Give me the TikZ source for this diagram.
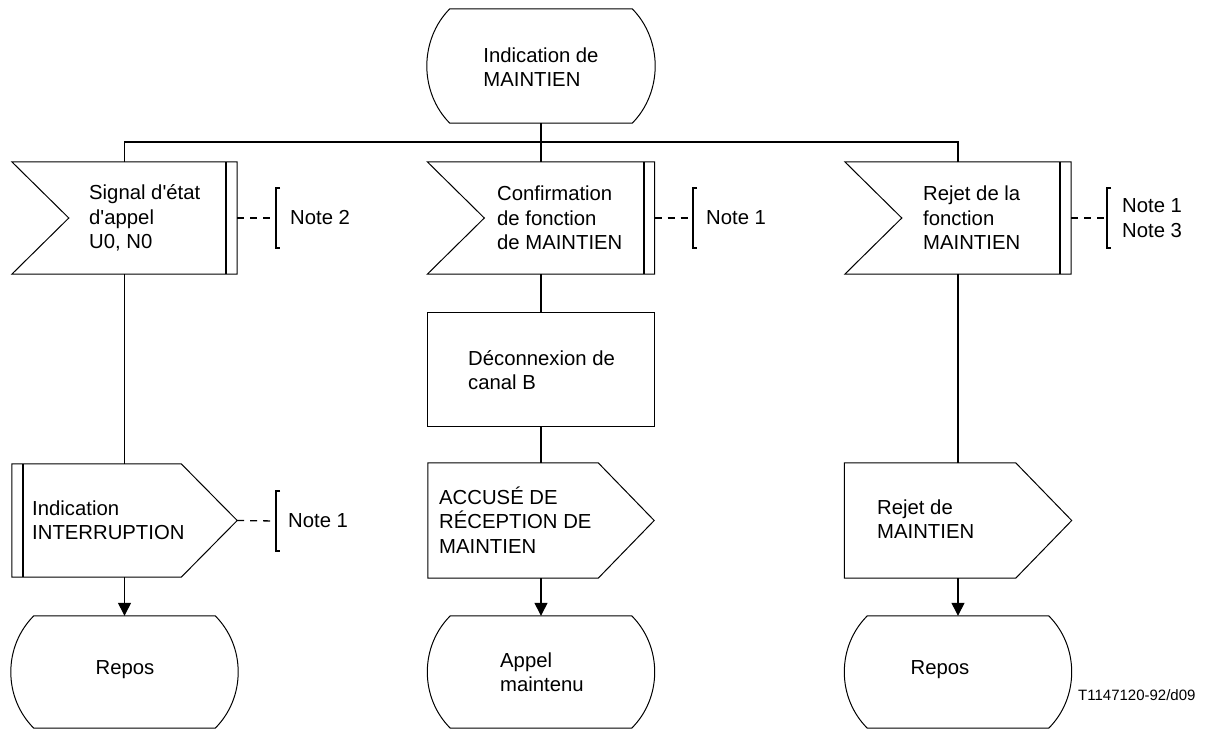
\documentclass[tikz,border=0pt]{standalone}
\usepackage{fontspec}
\newfontfamily\labelfont{Liberation Sans}
\usetikzlibrary{calc,arrows.meta}

% SDL symbol outlines, drawn from the anchors of an empty named node
\newcommand\stateoutline[1]{%
  \draw[outline] ($(#1.north west)+(23,0)$) -- ($(#1.north east)+(-23,0)$)
    .. controls ($(#1.north east)+(-8,15)$) and ($(#1.east)+(0,-21)$) .. (#1.east)
    .. controls ($(#1.east)+(0,21)$) and ($(#1.south east)+(-8,-15)$) .. ($(#1.south east)+(-23,0)$)
    -- ($(#1.south west)+(23,0)$)
    .. controls ($(#1.south west)+(8,-15)$) and ($(#1.west)+(0,21)$) .. (#1.west)
    .. controls ($(#1.west)+(0,-21)$) and ($(#1.north west)+(8,15)$) .. cycle;}
\newcommand\inputoutline[1]{%
  \draw[outline] (#1.north west) -- (#1.north east) -- (#1.south east)
    -- (#1.south west) -- ($(#1.west)+(57,0)$) -- cycle;
  \draw[bar] ($(#1.north east)+(-11,0)$) -- ($(#1.south east)+(-11,0)$);}
\newcommand\outputoutline[1]{%
  \draw[outline] (#1.north west) -- ($(#1.north east)+(-56,0)$) -- (#1.east)
    -- ($(#1.south east)+(-56,0)$) -- (#1.south west) -- cycle;}
\newcommand\notebracket[1]{%
  \draw[bracket] ($(#1)+(4,-30)$) -- ($(#1)+(0,-30)$) -- ($(#1)+(0,30)$) -- ($(#1)+(4,30)$);}

\begin{document}
\begin{tikzpicture}[x=1pt,y=-1pt,
  box/.style={draw=none, inner sep=0pt, minimum width=226pt, minimum height=112pt},
  outline/.style={draw=black, line width=1pt, line join=miter},
  bar/.style={line width=2.2pt},
  flow/.style={line width=1.3pt},
  flowarrow/.style={line width=1.3pt, -{Triangle[length=13pt,width=13pt]}},
  lbl/.style={font=\labelfont\fontsize{20.3}{24.5}\selectfont, align=left, inner sep=0pt},
  notelink/.style={line width=1.3pt, dash pattern=on 7pt off 6pt},
  bracket/.style={line width=1.5pt},
]
\useasboundingbox (0,0) rectangle (1210,731);

% symbols
\node[box, minimum width=228pt, minimum height=114pt] (s0) at (541,66) {};
\node[box, minimum width=225pt] (in1) at (124.5,218) {};
\node[box, minimum width=227pt] (in2) at (541,218) {};
\node[box] (in3) at (958,218) {};
\node[box, minimum width=227pt, minimum height=114pt, outline] (task) at (541,369) {};
\node[box, minimum width=225pt, minimum height=113pt] (out1) at (124.5,520.5) {};
\node[box, minimum height=115pt] (out2) at (541,520.5) {};
\node[box, minimum width=227pt, minimum height=115pt] (out3) at (958,520.5) {};
\node[box, minimum width=227pt] (st1) at (124.5,672) {};
\node[box, minimum width=227pt] (st2) at (541,672) {};
\node[box, minimum width=227pt] (st3) at (958,672) {};

\stateoutline{s0}
\inputoutline{in1}
\inputoutline{in2}
\inputoutline{in3}
\outputoutline{out1}
\draw[bar] ($(out1.north west)+(11,0)$) -- ($(out1.south west)+(11,0)$);
\outputoutline{out2}
\outputoutline{out3}
\stateoutline{st1}
\stateoutline{st2}
\stateoutline{st3}

% texts
\node[lbl] (s0t) at (541,67) {Indication de\\MAINTIEN};
\node[lbl, anchor=west] (in1t) at (89,218) {Signal d'état\\d'appel\\U0, N0};
\node[lbl, anchor=west] (in2t) at (497,218) {Confirmation\\de fonction\\de MAINTIEN};
\node[lbl, anchor=west] (in3t) at (923,218) {Rejet de la\\fonction\\MAINTIEN};
\node[lbl, anchor=west] (taskt) at (468,370) {Déconnexion de\\canal B};
\node[lbl, anchor=west] (out1t) at (32,520) {Indication\\INTERRUPTION};
\node[lbl, anchor=west] (out2t) at (439,520) {ACCUSÉ DE\\RÉCEPTION DE\\MAINTIEN};
\node[lbl, anchor=west] (out3t) at (877,519) {Rejet de\\MAINTIEN};
\node[lbl] (st1t) at (125,670) {Repos};
\node[lbl, anchor=west] (st2t) at (500,672) {Appel\\maintenu};
\node[lbl] (st3t) at (940,670) {Repos};

% flow lines
\coordinate (bus) at (541,142);
\draw[flow] (s0.south) -- (bus);
\draw[flow] (in1.north) |- (bus) -| (in3.north);
\draw[flow] (bus) -- (in2.north);
\draw[flow] (in1.south) -- (out1.north);
\draw[flowarrow] (out1.south) -- (st1.north);
\draw[flow] (in2.south) -- (task.north);
\draw[flow] (task.south) -- (out2.north);
\draw[flowarrow] (out2.south) -- (st2.north);
\draw[flow] (in3.south) -- (out3.north);
\draw[flowarrow] (out3.south) -- (st3.north);

% notes
\coordinate (b1) at (276,218);
\coordinate (b2) at (693,218);
\coordinate (b3) at (1107,218);
\coordinate (b4) at (276,521);
\draw[notelink] (in1.east) -- (b1);
\draw[notelink] (in2.east) -- (b2);
\draw[notelink] (in3.east) -- (b3);
\draw[notelink] (out1.east) -- (b4);
\notebracket{b1}
\notebracket{b2}
\notebracket{b3}
\notebracket{b4}
\node[lbl, anchor=west] (n1) at (290,218) {Note 2};
\node[lbl, anchor=west] (n2) at (706,218) {Note 1};
\node[lbl, anchor=west] (n3) at (1122,218) {Note 1\\Note 3};
\node[lbl, anchor=west] (n4) at (288,521) {Note 1};

\node[anchor=west, inner sep=0pt, font=\labelfont\fontsize{15}{18}\selectfont] (ref) at (1078,695) {T1147120-92/d09};
\end{tikzpicture}
\end{document}
